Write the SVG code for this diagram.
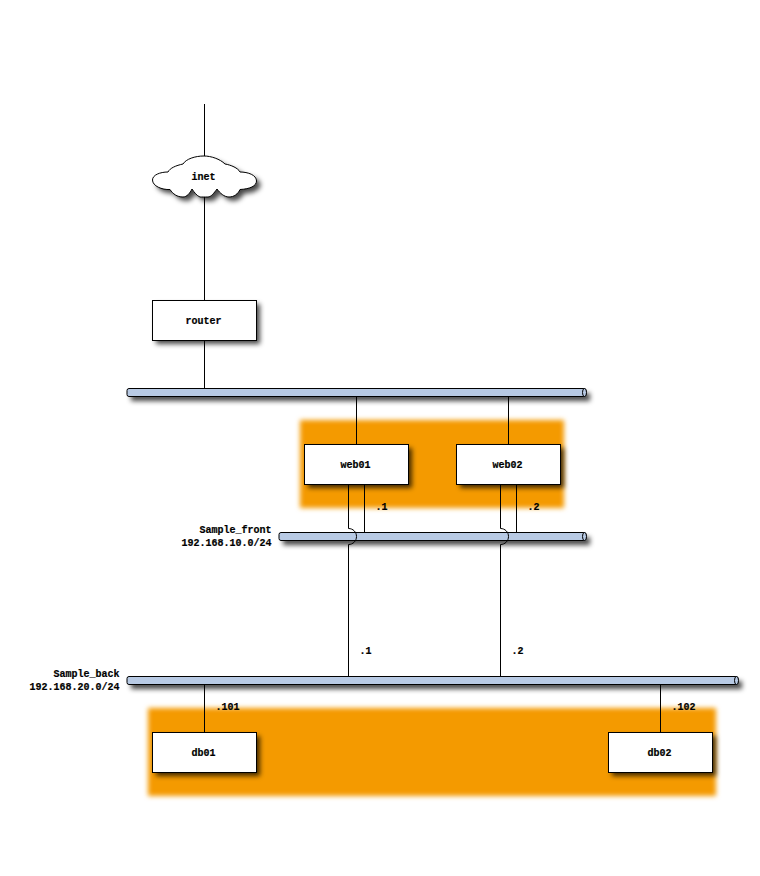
<svg xmlns="http://www.w3.org/2000/svg" width="760" height="876" viewBox="0 0 760 876">
<style>
text{font-family:"Liberation Mono","DejaVu Sans Mono",monospace;font-size:10px;font-weight:bold;fill:#000;stroke:#000;stroke-width:.2}
.c{text-anchor:middle}.e{text-anchor:end}
.box{fill:#fff;stroke:#000;stroke-width:1}
.bar{fill:#b8cae4;stroke:#000;stroke-width:1}
.sh{fill:#000;fill-opacity:.72;filter:url(#b)}
.zone{fill:#f49a06;filter:url(#bz)}
.l{fill:none;stroke:#000;stroke-width:1}
</style>
<defs>
<filter id="b" x="-20%" y="-200%" width="140%" height="500%"><feGaussianBlur stdDeviation="2.8"/></filter>
<filter id="bz" x="-5%" y="-10%" width="110%" height="120%"><feGaussianBlur stdDeviation="2.400"/></filter>
<path id="cloud" d="M168,172C170,168 176,165.500 183,164C186,159 195,156 204,156C211,156 220,159 225,164C231,165 238,168 240,172C248,172 256.500,175 256.500,181C256.500,186 250,189 240,189.500C238,194 234,197 229,197C224,197 220,193 217,189C214,193 211,197 208,197C205,197 201,197 200,197C197,196 194,192 192,189C190,193 187,197 183,197C177,197 173,194 170,189.500C162,190 152.500,186 152.500,180C152.500,175 160,172 168,172Z"/>
</defs>
<rect width="760" height="876" fill="#fff"/>
<g id="zones">
<rect class="zone" x="300" y="420" width="264" height="88"/>
<rect class="zone" x="148" y="708" width="568" height="88"/>
</g>
<g id="shadows">
<use href="#cloud" class="sh" x="4" y="4"/>
<rect class="sh" x="156" y="304" width="104" height="40"/>
<rect class="sh" x="308" y="448" width="104" height="40"/>
<rect class="sh" x="460" y="448" width="104" height="40"/>
<rect class="sh" x="156" y="736" width="104" height="40"/>
<rect class="sh" x="612" y="736" width="104" height="40"/>
<rect class="sh" x="131" y="393" width="459" height="8"/>
<rect class="sh" x="283" y="537" width="307" height="8"/>
<rect class="sh" x="131" y="681" width="611" height="8"/>
</g>
<g id="net-top"><rect class="bar" x="127" y="388.500" width="459" height="8" rx="2"/><ellipse class="bar" cx="584.500" cy="392.500" rx="2" ry="4"/></g>
<g id="Sample_front"><rect class="bar" x="279" y="532.500" width="307" height="8" rx="2"/><ellipse class="bar" cx="584.500" cy="536.500" rx="2" ry="4"/>
<text class="e" x="271.500" y="533">Sample_front</text><text class="e" x="271.500" y="546">192.168.10.0/24</text></g>
<g id="Sample_back"><rect class="bar" x="127" y="676.500" width="611" height="8" rx="2"/><ellipse class="bar" cx="736.500" cy="680.500" rx="2" ry="4"/>
<text class="e" x="119.500" y="677">Sample_back</text><text class="e" x="119.500" y="690">192.168.20.0/24</text></g>
<g id="connectors">
<path class="l" d="M204.500,104V156M204.500,196V300M204.500,341V389"/>
<path class="l" d="M356.500,397V444M508.500,397V444"/>
<path class="l" d="M364.500,485V532.500M516.500,485V532.500"/>
<path class="l" d="M204.500,685V732M660.500,685V732"/>
<path class="l" d="M348.500,485V528.500C353,528.500 356.500,532 356.500,536.500C356.500,541 353,544.500 348.500,544.500V677"/>
<path class="l" d="M500.500,485V528.500C505,528.500 508.500,532 508.500,536.500C508.500,541 505,544.500 500.500,544.500V677"/>
</g>
<g id="inet"><use href="#cloud" fill="#fff" stroke="#000"/><text class="c" x="203.500" y="180">inet</text></g>
<g id="router"><rect class="box" x="152.500" y="300.500" width="104" height="40"/><text class="c" x="203.500" y="324">router</text></g>
<g id="web01"><rect class="box" x="304.500" y="444.500" width="104" height="40"/><text class="c" x="355.500" y="468">web01</text></g>
<g id="web02"><rect class="box" x="456.500" y="444.500" width="104" height="40"/><text class="c" x="507.500" y="468">web02</text></g>
<g id="db01"><rect class="box" x="152.500" y="732.500" width="104" height="40"/><text class="c" x="203.500" y="756">db01</text></g>
<g id="db02"><rect class="box" x="608.500" y="732.500" width="104" height="40"/><text class="c" x="659.500" y="756">db02</text></g>
<g id="labels">
<text x="375.500" y="510">.1</text><text x="527.500" y="510">.2</text>
<text x="359.500" y="654">.1</text><text x="511.500" y="654">.2</text>
<text x="215.500" y="710">.101</text><text x="671.500" y="710">.102</text>
</g>
</svg>
